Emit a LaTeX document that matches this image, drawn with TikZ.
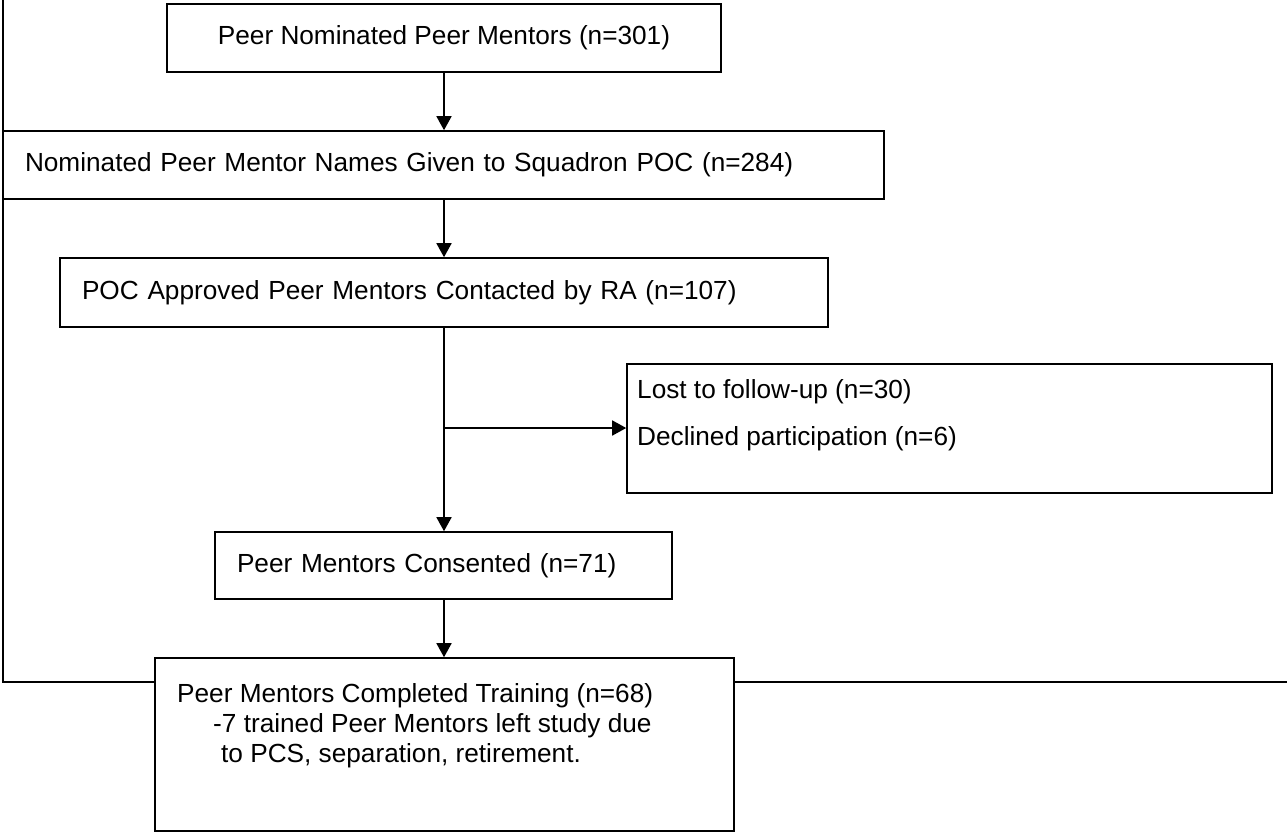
\documentclass[tikz,border=0pt]{standalone}
\usepackage{fontspec}
\setmainfont{Liberation Sans}
\usetikzlibrary{arrows.meta,calc}
\begin{document}
\begin{tikzpicture}[x=1pt,y=-1pt,
  every node/.style={font=\fontsize{26.2}{30}\selectfont},
  box/.style={draw=black,line width=1.6pt,fill=white,rectangle,inner ysep=0pt},
  txt/.style={inner sep=0pt,align=left},
  arr/.style={line width=1.6pt,-{Triangle[width=15pt,length=14pt]}},
  frame/.style={line width=2.4pt}]
\useasboundingbox (0,0) rectangle (1287,833);
% frame
\coordinate (ftop) at (3,-2);
\coordinate (fcorner) at (3,682);
\coordinate (fend) at (1290,682);
\draw[frame] (ftop) -- (fcorner) -- (fend);
% boxes
\node[box,minimum width=554pt,minimum height=68pt,inner xsep=0pt] (b1) at (444,38) {Peer Nominated Peer Mentors (n=301)};
\node[box,minimum height=68pt,inner xsep=22pt,text width=837pt,align=left] (b2) at (443.5,165) {Nominated Peer Mentor Names Given to Squadron POC (n=284)};
\node[box,minimum height=69pt,inner xsep=22pt,text width=724pt,align=left] (b3) at (444,292.5) {POC Approved Peer Mentors Contacted by RA (n=107)};
\node[box,minimum width=645pt,minimum height=129pt] (side) at (949.5,428.5) {};
\node[box,minimum height=67pt,inner xsep=22pt,text width=413pt,align=left] (b4) at (443.5,565.5) {Peer Mentors Consented (n=71)};
\node[box,minimum width=579pt,minimum height=173pt] (b5) at (444.5,744.5) {};
% texts in boxes
\node[txt,anchor=west] (s1) at (637,392) {Lost to follow-up (n=30)};
\node[txt,anchor=west] (s2) at (637,439) {Declined participation (n=6)};
\node[txt,anchor=north west] (t5) at (177,683) {Peer Mentors Completed Training (n=68)\\
\hspace*{36pt}-7 trained Peer Mentors left study due\\
\hspace*{44pt}to PCS, separation, retirement.};
% connectors
\coordinate (col) at (444,0);
\coordinate (split) at (444,428);
\draw[arr] (b1.south -| col) -- (b2.north -| col);
\draw[arr] (b2.south -| col) -- (b3.north -| col);
\draw[arr] (b3.south -| col) -- (b4.north -| col);
\draw[arr] (split) -- (side.west |- split);
\draw[arr] (b4.south -| col) -- (b5.north -| col);
\end{tikzpicture}
\end{document}
